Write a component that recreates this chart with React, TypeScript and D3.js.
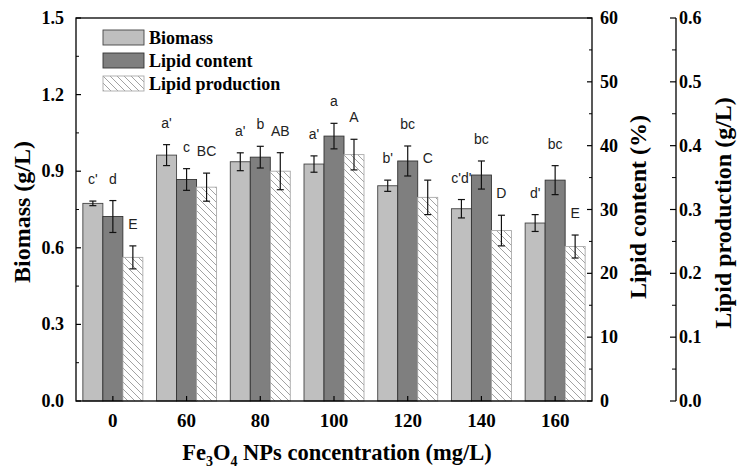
import React from "react";
import * as d3 from "d3";

const categories = ["0", "60", "80", "100", "120", "140", "160"];
const biomass = [0.774, 0.963, 0.937, 0.928, 0.843, 0.753, 0.697];
const biomassErr = [0.009, 0.041, 0.035, 0.032, 0.022, 0.036, 0.033];
const lipidContent = [28.9, 34.7, 38.2, 41.5, 37.6, 35.4, 34.6];
const lipidContentErr = [2.5, 1.7, 1.7, 2.0, 2.35, 2.2, 2.27];
const lipidProd = [0.225, 0.335, 0.36, 0.386, 0.319, 0.267, 0.242];
const lipidProdErr = [0.018, 0.022, 0.029, 0.024, 0.027, 0.024, 0.018];
const biomassLetters = ["c'", "a'", "a'", "a'", "b'", "c'd'", "d'"];
const contentLetters = ["d", "c", "b", "a", "bc", "bc", "bc"];
const prodLetters = ["E", "BC", "AB", "A", "C", "D", "E"];
const seriesNames = ["Biomass", "Lipid content", "Lipid production"];
const leftTicks = [0, 0.3, 0.6, 0.9, 1.2, 1.5];
const rightTicks = [0, 10, 20, 30, 40, 50, 60];
const thirdTicks = [0, 0.1, 0.2, 0.3, 0.4, 0.5, 0.6];

const W = 747, H = 471;
const L = 76, R = 592, T = 18, B = 401;
const AX3 = 676;
const serif = "Liberation Serif, Tinos, DejaVu Serif, serif";
const sans = "Liberation Sans, Arimo, Arial, sans-serif";

const sf = (size: number, extra: any = {}) => ({ fontFamily: serif, fontWeight: 700, fontSize: size, ...extra });

export default function App() {
  const x = d3.scaleBand().domain(categories).range([L, R]).padding(0);
  const inner = d3.scaleBand().domain(seriesNames).range([-30, 30]).padding(0);
  const yB = d3.scaleLinear().domain([0, 1.5]).range([B, T]);
  const yC = d3.scaleLinear().domain([0, 60]).range([B, T]);
  const yP = d3.scaleLinear().domain([0, 0.6]).range([B, T]);

  const series = [
    { name: seriesNames[0], vals: biomass, errs: biomassErr, letters: biomassLetters, y: yB, fill: "#bfbfbf", stroke: "#444" },
    { name: seriesNames[1], vals: lipidContent, errs: lipidContentErr, letters: contentLetters, y: yC, fill: "#7f7f7f", stroke: "#333" },
    { name: seriesNames[2], vals: lipidProd, errs: lipidProdErr, letters: prodLetters, y: yP, fill: "url(#hatch)", stroke: "#aaa" },
  ];

  const bw = inner.bandwidth();
  const center = (c: string) => (x(c) as number) + x.bandwidth() / 2;

  const minor = (ticks: number[]) =>
    ticks.slice(0, -1).map((t, i) => (t + ticks[i + 1]) / 2);

  return (
    <svg width={W} height={H} style={{ position: "absolute", left: 0, top: 0, background: "#fff" }}>
      <defs>
        <pattern id="hatch" patternUnits="userSpaceOnUse" width="7" height="7">
          <rect width="7" height="7" fill="#fff" />
          <path d="M0,0 L7,7 M-1,6 L1,8 M6,-1 L8,1" stroke="#8a8a8a" strokeWidth="0.8" />
        </pattern>
      </defs>

      {series.map((s) =>
        categories.map((c, i) => {
          const bx = center(c) + (inner(s.name) as number);
          const yv = s.y(s.vals[i]);
          return (
            <rect key={s.name + c} x={bx} y={yv} width={bw} height={B - yv}
              fill={s.fill} stroke={s.stroke} strokeWidth={0.9} />
          );
        })
      )}

      {series.map((s) =>
        categories.map((c, i) => {
          const cx = center(c) + (inner(s.name) as number) + bw / 2;
          const top = s.y(s.vals[i] + s.errs[i]);
          const bot = s.y(s.vals[i] - s.errs[i]);
          return (
            <g key={"e" + s.name + c}>
              <line x1={cx} x2={cx} y1={top} y2={bot} stroke="#111" strokeWidth={1.2} />
              <line x1={cx - 3.5} x2={cx + 3.5} y1={top} y2={top} stroke="#111" strokeWidth={1.2} />
              <line x1={cx - 3.5} x2={cx + 3.5} y1={bot} y2={bot} stroke="#111" strokeWidth={1.2} />
              <text x={cx} y={top - 17} textAnchor="middle" style={{ fontFamily: sans, fontSize: 14 }} fill="#222">
                {s.letters[i]}
              </text>
            </g>
          );
        })
      )}

      <rect x={L} y={T} width={R - L} height={B - T} fill="none" stroke="#000" strokeWidth={1.3} />

      {categories.map((c) => (
        <g key={"xt" + c}>
          <line x1={center(c)} x2={center(c)} y1={B} y2={B - 5} stroke="#000" strokeWidth={1.2} />
          <text x={center(c)} y={427} textAnchor="middle" style={sf(19)}>{c}</text>
        </g>
      ))}

      {leftTicks.map((t) => (
        <g key={"l" + t}>
          <line x1={L} x2={L + 5} y1={yB(t)} y2={yB(t)} stroke="#000" strokeWidth={1.2} />
          <text x={64} y={yB(t) + 6} textAnchor="end" style={sf(18)}>
            {d3.format(".1f")(t)}
          </text>
        </g>
      ))}
      {minor(leftTicks).map((t) => (
        <line key={"lm" + t} x1={L} x2={L + 3} y1={yB(t)} y2={yB(t)} stroke="#000" strokeWidth={1} />
      ))}

      {rightTicks.map((t) => (
        <g key={"r" + t}>
          <line x1={R} x2={R - 5} y1={yC(t)} y2={yC(t)} stroke="#000" strokeWidth={1.2} />
          <text x={600} y={yC(t) + 6} textAnchor="start" style={sf(18)}>
            {t}
          </text>
        </g>
      ))}
      {minor(rightTicks).map((t) => (
        <line key={"rm" + t} x1={R} x2={R - 3} y1={yC(t)} y2={yC(t)} stroke="#000" strokeWidth={1} />
      ))}

      <line x1={AX3} x2={AX3} y1={T} y2={B} stroke="#000" strokeWidth={1.3} />
      {thirdTicks.map((t) => (
        <g key={"p" + t}>
          <line x1={AX3} x2={AX3 - 6} y1={yP(t)} y2={yP(t)} stroke="#000" strokeWidth={1.2} />
          <text x={679} y={yP(t) + 6} textAnchor="start" style={sf(18)}>
            {d3.format(".1f")(t)}
          </text>
        </g>
      ))}
      {minor(thirdTicks).map((t) => (
        <line key={"pm" + t} x1={AX3} x2={AX3 - 4} y1={yP(t)} y2={yP(t)} stroke="#000" strokeWidth={1} />
      ))}

      <text transform="translate(30,212) rotate(-90)" textAnchor="middle" style={sf(24)}>
        Biomass (g/L)
      </text>
      <text transform="translate(646,207) rotate(-90)" textAnchor="middle" style={sf(24)}>
        Lipid content (%)
      </text>
      <text transform="translate(731,213) rotate(-90)" textAnchor="middle" style={sf(24)}>
        Lipid production (g/L)
      </text>
      <text x={337} y={460} textAnchor="middle" style={sf(22.5)}>
        Fe<tspan style={{ fontSize: 14 }} dy={6}>3</tspan><tspan dy={-6}>O</tspan><tspan style={{ fontSize: 14 }} dy={6}>4</tspan><tspan dy={-6}> NPs concentration (mg/L)</tspan>
      </text>

      {series.map((s, i) => (
        <g key={"lg" + s.name} transform={`translate(103,${30 + i * 23})`}>
          <rect x={0} y={0} width={41} height={15} fill={s.fill} stroke={s.stroke} strokeWidth={0.9} />
          <text x={46} y={14} style={sf(18)}>{s.name}</text>
        </g>
      ))}
    </svg>
  );
}
